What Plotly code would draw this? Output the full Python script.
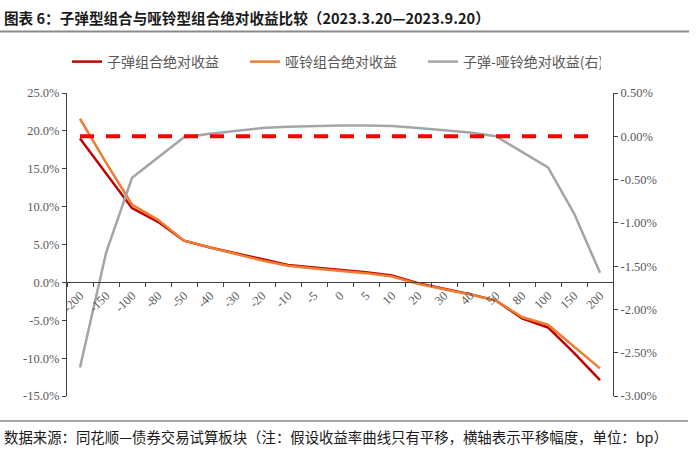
import plotly.graph_objects as go

# ---- data ----
categories = ["-200", "-150", "-100", "-80", "-50", "-40", "-30", "-20", "-10", "-5",
              "0", "5", "10", "20", "30", "40", "50", "80", "100", "150", "200"]
bullet_abs = [19.0, 14.4, 9.8, 8.0, 5.5, 4.6, 3.8, 3.0, 2.3, 1.95,
              1.65, 1.35, 0.9, -0.1, -0.85, -1.55, -2.4, -4.75, -5.95, -9.3, -12.9]
barbell_abs = [21.6, 15.8, 10.28, 8.25, 5.5, 4.57, 3.74, 2.9, 2.19, 1.83,
               1.52, 1.22, 0.78, -0.2, -0.92, -1.6, -2.4, -4.57, -5.59, -8.41, -11.35]
diff_right = [-2.67, -1.35, -0.48, -0.25, -0.01, 0.03, 0.06, 0.095, 0.11, 0.12,
              0.125, 0.125, 0.12, 0.095, 0.067, 0.044, 0.0, -0.18, -0.36, -0.89, -1.575]
zero_ref = [0.0] * len(categories)

left_ticks = [-15, -10, -5, 0, 5, 10, 15, 20, 25]
right_ticks = [-3.0, -2.5, -2.0, -1.5, -1.0, -0.5, 0.0, 0.5]

title_text = "图表 6：子弹型组合与哑铃型组合绝对收益比较（2023.3.20—2023.9.20）"
footer_text = "数据来源：同花顺—债券交易试算板块（注：假设收益率曲线只有平移，横轴表示平移幅度，单位：bp）"

# ---- layout geometry (pixels) ----
W, H = 700, 451
L, R, T, B = 67, 87, 93, 55
pw, ph = W - L - R, H - T - B


def px_x(p):
    return (p - L) / pw


def px_y(p):
    return (H - B - p) / ph


tick_font = dict(family="Liberation Serif, Times New Roman, serif", size=12.5, color="#595959")
cjk = "Noto Sans CJK SC, sans-serif"

fig = go.Figure()
fig.add_trace(go.Scatter(x=categories, y=bullet_abs, name="子弹组合绝对收益", mode="lines",
                         line=dict(color="#C00000", width=2.5)))
fig.add_trace(go.Scatter(x=categories, y=barbell_abs, name="哑铃组合绝对收益", mode="lines",
                         line=dict(color="#ED7D31", width=2.5)))
fig.add_trace(go.Scatter(x=categories, y=diff_right, name="子弹-哑铃绝对收益(右)", mode="lines",
                         line=dict(color="#A5A5A5", width=2.5), yaxis="y2"))
fig.add_trace(go.Scatter(x=categories, y=zero_ref, mode="lines", showlegend=False,
                         line=dict(color="#FF0000", width=4, dash="14px,12px"), yaxis="y2",
                         hoverinfo="skip"))

fig.update_layout(
    width=W, height=H,
    margin=dict(l=L, r=R, t=T, b=B, pad=0, autoexpand=False),
    plot_bgcolor="white", paper_bgcolor="white",
    showlegend=True,
    legend=dict(orientation="h", x=px_x(67), xanchor="left", y=px_y(62), yanchor="middle",
                font=dict(family=cjk, size=14, color="#595959"),
                entrywidth=133, entrywidthmode="pixels", bgcolor="rgba(0,0,0,0)"),
    xaxis=dict(type="category", range=[-0.5, len(categories) - 0.5],
               anchor="free", position=15 / 40, automargin=False,
               showline=True, linecolor="#404040", linewidth=1,
               ticks="outside", ticklen=4, tickcolor="#404040", tickson="boundaries",
               tickangle=-45, tickfont=tick_font, showgrid=False, zeroline=False),
    yaxis=dict(range=[-15, 25], tickvals=left_ticks, automargin=False,
               ticktext=[f"{v:.1f}%" for v in left_ticks],
               showline=True, linecolor="#404040", linewidth=1,
               ticks="outside", ticklen=4, tickcolor="#404040",
               tickfont=tick_font, showgrid=False, zeroline=False),
    yaxis2=dict(range=[-3.0, 0.5], tickvals=right_ticks, automargin=False,
                ticktext=[f"{v:.2f}%" for v in right_ticks],
                overlaying="y", side="right", anchor="x",
                showline=True, linecolor="#404040", linewidth=1,
                ticks="outside", ticklen=4, tickcolor="#404040",
                tickfont=tick_font, showgrid=False, zeroline=False),
    annotations=[
        dict(text="<b>" + title_text + "</b>", xref="paper", yref="paper",
             x=px_x(2), y=px_y(17), xanchor="left", yanchor="middle", showarrow=False,
             font=dict(family=cjk, size=14.6, color="#1a1a1a")),
        dict(text=footer_text, xref="paper", yref="paper",
             x=px_x(2), y=px_y(436), xanchor="left", yanchor="middle", showarrow=False,
             font=dict(family=cjk, size=14.4, color="#1a1a1a")),
    ],
    shapes=[
        dict(type="line", xref="paper", yref="paper", x0=px_x(0), x1=px_x(689),
             y0=px_y(31.5), y1=px_y(31.5), line=dict(color="#8a8a8a", width=2)),
        dict(type="line", xref="paper", yref="paper", x0=px_x(0), x1=px_x(688),
             y0=px_y(421), y1=px_y(421), line=dict(color="#8a8a8a", width=1.5)),
    ],
)

fig.write_html("out.html", config={"displayModeBar": False},
               post_script="document.body.style.margin='0';")
